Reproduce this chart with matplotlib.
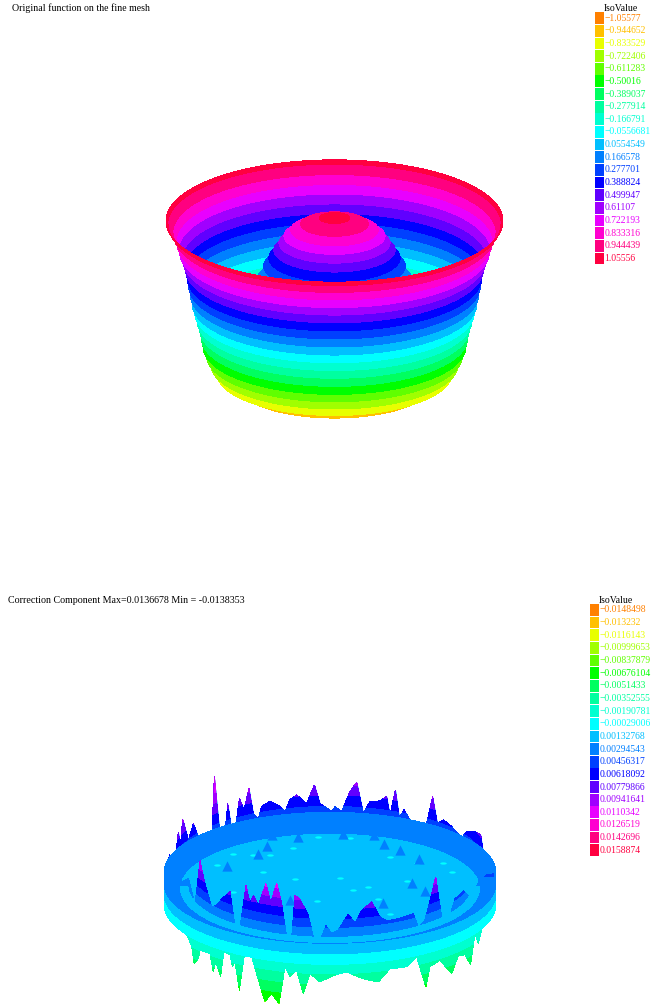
import numpy as np
import matplotlib
matplotlib.use('Agg')
import matplotlib.pyplot as plt
from matplotlib.patches import Rectangle
from matplotlib.path import Path
from matplotlib.transforms import Affine2D

W, H = 653, 1005
plt.rcParams['font.family'] = ['Liberation Serif', 'DejaVu Serif']

# legend colours, low to high
colors = ['#ff8000', '#ffc000', '#e8ff00', '#a0ff00', '#60ff00', '#00ff00', '#00ff60',
          '#00ffa0', '#00ffd0', '#00ffff', '#00bfff', '#0080ff', '#0040ff', '#0000ff',
          '#6000ff', '#a000ff', '#e800ff', '#ff00d0', '#ff0080', '#ff0040']

iso_labels_top = ['-1.05577', '-0.944652', '-0.833529', '-0.722406', '-0.611283', '-0.50016',
                  '-0.389037', '-0.277914', '-0.166791', '-0.0556681', '0.0554549', '0.166578',
                  '0.277701', '0.388824', '0.499947', '0.61107', '0.722193', '0.833316',
                  '0.944439', '1.05556']
iso_labels_bot = ['-0.0148498', '-0.013232', '-0.0116143', '-0.00999653', '-0.00837879',
                  '-0.00676104', '-0.0051433', '-0.00352555', '-0.00190781', '-0.00029006',
                  '0.00132768', '0.00294543', '0.00456317', '0.00618092', '0.00779866',
                  '0.00941641', '0.0110342', '0.0126519', '0.0142696', '0.0158874']

# top surface: radius reached at each band edge, from the lowest value up
bowl_radius = [0.52, 0.60, 0.70, 0.735, 0.76, 0.78, 0.79, 0.80, 0.815, 0.83, 0.845,
               0.855, 0.865, 0.875, 0.885, 0.90, 0.92, 0.935, 0.955, 0.985, 1.0]
# dome above the trough: only its upper bands are in view
dome_first = 10
dome_radius = [0.50, 0.46, 0.42, 0.39, 0.36, 0.33, 0.30, 0.26, 0.20, 0.09]
# how far each dome edge lies below the cap, in the same radius unit
dome_drop = [.457, .368, .285, .237, .19, .148, .107, .071, .036, 0.0]

# bottom surface, correction values in units of 1e-3 read along the rim
back_x = [-.994, -.964, -.934, -.914, -.900, -.888, -.853, -.823, -.793, -.763, -.713, -.697,
          -.663, -.633, -.616, -.592, -.566, -.546, -.518, -.488, -.462, -.432, -.412, -.361,
          -.311, -.271, -.241, -.201, -.141, -.094, -.060, .010, .030, .070, .120, .161, .201,
          .241, .281, .311, .341, .361, .394, .418, .446, .502, .552, .582, .618, .647, .683,
          .733, .793, .823, .873, .908, .924, .964, .994]
back_val = [4.7, 6.5, 4.2, 8.0, 5.5, 9.2, 5.1, 7.1, 4.6, 4.5, 3.1, 12.7,
            3.6, 3.6, 7.8, 3.6, 4.4, 8.1, 6.2, 9.3, 5.3, 4.2, 6.1, 6.7,
            5.9, 4.8, 6.6, 7.2, 5.8, 8.6, 5.7, 4.5, 5.2, 4.5, 7.6, 9.1, 4.4,
            6.3, 6.4, 6.7, 7.4, 4.6, 8.6, 4.4, 5.8, 3.5, 3.3, 4.5, 8.9, 5.0, 5.9,
            5.4, 4.4, 5.9, 6.8, 7.3, 5.1, 5.7, 4.7]

front_x = [-.964, -.914, -.843, -.813, -.783, -.753, -.713, -.683, -.653, -.602, -.572, -.542,
           -.506, -.482, -.462, -.432, -.386, -.357, -.321, -.291, -.261, -.231, -.211, -.181,
           -.131, -.100, -.060, -.024, .010, .050, .110, .151, .191, .251, .301, .341, .412,
           .502, .532, .572, .637, .673, .713, .753, .803, .854, .904, .944, .984]
front_val = [2.9, 2.5, 3.5, 1.5, 10.2, 6.7, 3.3, 4.0, 5.6, 7.5, 1.4, 1.8,
             9.6, 6.5, 8.1, 6.5, 10.7, 7.5, 11.1, 7.5, 1.6, 1.6, 9.3, 8.7,
             5.9, 2.0, 1.4, 4.1, 2.7, 3.3, 6.1, 4.4, 6.6, 8.0, 5.1, 4.2, 4.2,
             4.5, 1.8, 2.7, 9.8, 2.0, 0.8, 4.0, 4.2, 0.6, 3.1, 4.0, 4.2]

under_x = [-.934, -.904, -.873, -.833, -.819, -.793, -.783, -.723, -.703, -.689, -.659, -.639,
           -.602, -.588, -.572, -.546, -.518, -.472, -.446, -.392, -.371, -.351, -.307, -.271,
           -.241, -.201, -.161, -.120, -.060, .020, .100, .201, .291, .361, .462, .522, .578,
           .602, .663, .733, .773, .813, .847, .873, .894, .924]
under_val = [0.0, -1.1, -0.6, -2.5, -4.9, -3.8, -2.4, -2.3, -4.9, -3.2, -5.2, -1.3,
             -1.5, -3.2, -2.4, -6.6, -1.3, -1.0, -3.2, -7.6, -6.8, -6.2, -7.6, -1.8,
             -3.3, -2.2, -5.7, -2.6, -3.8, -2.8, -2.3, -3.5, -4.2, -2.4, -2.5, -1.3, -6.3,
             -3.3, -2.8, -5.5, -3.1, -3.5, -5.5, -1.1, -3.0, -0.3]

# small features on the flat part of the disc (x, y in the disc plane)
low_x = [.060, .231, -.211, .141, -.080, .291, -.683, -.462, -.361, -.582, -.221, -.070,
         .120, .361, .733, .522, .462, .361, -.402, -.582, .683, .622]
low_y = [.19, .03, .18, -.03, -.24, -.19, .44, .61, .61, .64, .75, .94,
         .92, .58, .31, .47, .14, -.47, .31, -.06, .47, -.36]
bump_x = [-.191, .080, .265, .325, -.351, -.382, -.618, .538, .422, .492, .572, -.241, .321, -.432]
bump_y = [.89, .94, .92, .76, .92, .72, .36, .48, .64, .03, -.11, -.28, -.33, .58]

tilt = 0.363
iso_top = np.array([float(v) for v in iso_labels_top])
iso_bot = np.array([float(v) for v in iso_labels_bot]) * 1000
edges_top = np.r_[iso_top[0], (iso_top[:-1] + iso_top[1:]) / 2, iso_top[-1]]
edges_bot = np.r_[iso_bot[0] - 0.8, (iso_bot[:-1] + iso_bot[1:]) / 2, iso_bot[-1] + 0.8]

fig = plt.figure(figsize=(W / 100, H / 100), dpi=100, facecolor='white')


def panel(cx, cy, a):
    # axes over the whole figure, x in disc radii, y up in the same unit
    ax = fig.add_axes([0, 0, 1, 1])
    ax.set_xlim(-cx / a, (W - cx) / a)
    ax.set_ylim((cy - H) / a, cy / a)
    ax.axis('off')
    ax.patch.set_alpha(0)
    return ax


def disc(ax, r, z, color):
    t = np.linspace(0, 2 * np.pi, 240)
    ax.fill(r * np.cos(t), r * tilt * np.sin(t) + z, color=color, lw=0, antialiased=False)


def wall(ax, r, z0, z1, color):
    # piece of a cylinder between two heights
    t = np.linspace(np.pi, 2 * np.pi, 120)
    xs = np.r_[r * np.cos(t), (r * np.cos(t))[::-1]]
    ys = np.r_[r * tilt * np.sin(t) + z0, (-r * tilt * np.sin(t) + z1)[::-1]]
    ax.fill(xs, ys, color=color, lw=0, antialiased=False)


# top surface
ax1 = panel(334.5, 221, 168.5)
zs1 = 78 / 168.5
z_edge = (edges_top - edges_top[-1]) * zs1
# inside of the bowl, from the rim down
for i in range(19, -1, -1):
    disc(ax1, bowl_radius[i + 1], z_edge[i + 1], colors[i])
disc(ax1, bowl_radius[0], z_edge[0], colors[0])
# dome, from the trough up
for i, (r, d) in enumerate(zip(dome_radius, dome_drop)):
    disc(ax1, r, 3 / 168.5 - d, colors[dome_first + i])
# front wall
t = np.linspace(np.pi, 2 * np.pi, 200)
for i in range(20):
    r0, r1 = bowl_radius[i], bowl_radius[i + 1]
    xs = np.r_[r1 * np.cos(t), (r0 * np.cos(t))[::-1]]
    ys = np.r_[r1 * tilt * np.sin(t) + z_edge[i + 1], (r0 * tilt * np.sin(t) + z_edge[i])[::-1]]
    ax1.fill(xs, ys, color=colors[i], lw=0, antialiased=False)

# bottom surface
a2 = 166
ax2 = panel(330, 897, a2)
zs2 = 6.5 / a2  # per 1e-3


def rim_y(x, r, side):
    return side * r * tilt * np.sqrt(np.clip(1 - (x / r) ** 2, 0, None))


def spikes(ax, x, val, r, side, first, falling=False, zs=zs2):
    xx = np.linspace(min(x), max(x), 1400)
    vv = np.interp(xx, x, val)
    base = rim_y(xx, r, side)
    if falling:
        # coloured from the top band down
        for i in range(first, -1, -1):
            e = edges_bot[i + 1]
            ax.fill_between(xx, base + e * zs, base + vv * zs, where=vv < e, color=colors[i],
                            lw=0, antialiased=False, interpolate=True)
    else:
        for i in range(first, 20):
            e = edges_bot[i]
            ax.fill_between(xx, base + e * zs, base + vv * zs, where=vv > e, color=colors[i],
                            lw=0, antialiased=False, interpolate=True)


spikes(ax2, under_x, under_val, 1.0, -1, 8, falling=True)
spikes(ax2, back_x, back_val, 0.94, 1, 10)
# side of the ring
wall(ax2, 1.0, edges_bot[9] * zs2, edges_bot[10] * zs2, colors[9])
wall(ax2, 1.0, edges_bot[10] * zs2, edges_bot[11] * zs2, colors[10])
wall(ax2, 1.0, edges_bot[11] * zs2, edges_bot[12] * zs2, colors[11])
# flat inner part
disc(ax2, 0.90, iso_bot[10] * zs2, colors[10])

dash = Path.unit_circle().transformed(Affine2D().scale(1, 0.35))
ax2.scatter(low_x, np.array(low_y) * tilt * 0.9 + iso_bot[10] * zs2, s=22, marker=dash,
            color=colors[9], lw=0)
ax2.scatter(bump_x, np.array(bump_y) * tilt * 0.9 + iso_bot[10] * zs2 + 0.02, s=55, marker='^',
            color=colors[11], lw=0)
spikes(ax2, front_x, front_val, 0.85, -1, 11, zs=zs2 * 0.85)

# legends and titles, placed in pixels
ax_text = fig.add_axes([0, 0, 1, 1])
ax_text.set_xlim(0, W)
ax_text.set_ylim(H, 0)
ax_text.axis('off')
ax_text.patch.set_alpha(0)


def legend(x0, y0, labels, title_x, title_y):
    step = 12.65
    for i, lab in enumerate(labels):
        y = y0 + i * step
        ax_text.add_patch(Rectangle((x0, y), 9.3, step - 0.9, color=colors[i], lw=0))
        ax_text.text(x0 + 9.4, y + step / 2 - 0.4, lab.replace('-', '\u2212'), color=colors[i],
                     fontsize=6.9, va='center', ha='left')
    ax_text.text(title_x, title_y, 'IsoValue', color='black', fontsize=7, va='center', ha='left')


legend(594.8, 12.2, iso_labels_top, 604, 8)
legend(590, 604, iso_labels_bot, 599, 600)
ax_text.text(12, 8.5, 'Original function on the fine mesh', fontsize=7.1, va='center', ha='left')
ax_text.text(8, 600.5, 'Correction Component Max=0.0136678 Min = -0.0138353', fontsize=7.2, va='center', ha='left')

fig.savefig('out.png', dpi=100)
